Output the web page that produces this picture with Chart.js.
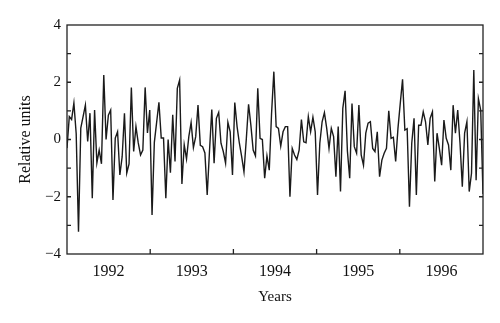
<!DOCTYPE html>
<html>
<head>
<meta charset="utf-8">
<script src="https://cdn.jsdelivr.net/npm/chart.js@4.4.0/dist/chart.umd.min.js"></script>
<style>
  html, body { margin: 0; padding: 0; background: #fff; }
  #wrap { width: 500px; height: 323px; }
</style>
</head>
<body>
<div id="wrap"><canvas id="chart"></canvas></div>
<script>
// year bins shown on the x axis
const yearLabels = ['1992', '1993', '1994', '1995', '1996'];
const firstYear = 1992;
const lastYear = 1997;

// y axis labels
const yTickValues = [-4, -2, 0, 2, 4];

// relative units (about 36 samples per year)
const relValues = [
  -0.3, 0.8, 0.7, 1.27, 0.2, -3.22, 0.4, 0.8, 1.2, -0.07,
  0.92, -2.05, 1.03, -0.82, -0.37, -0.85, 2.25, 0, 0.85, 1.03,
  -2.11, 0.05, 0.27, -1.24, -0.6, 0.92, -1.17, -0.85, 1.82, -0.42,
  0.45, -0.12, -0.54, -0.37, 1.82, 0.23, 1.03, -2.64, -0.1, 0.6,
  1.3, 0.05, 0.05, -2.05, 0.0, -1.16, 0.86, -0.77, 1.79, 2.08,
  -1.55, -0.19, -0.68, 0.1, 0.59, -0.28, 0.1, 1.2, -0.2, -0.25,
  -0.47, -1.94, -0.4, 1.05, -0.83, 0.74, 0.95, -0.13, -0.42, -0.83,
  0.6, 0.27, -1.24, 1.29, 0.45, -0.13, -0.6, -1.13, 0, 1.23,
  0.5, -0.37, -0.57, 1.79, 0.04, 0, -1.35, -0.57, -1.07, 0.91,
  2.37, 0.45, 0.39, -0.23, 0.27, 0.45, 0.45, -2.0, -0.31, -0.54,
  -0.7, -0.37, 0.7, -0.08, -0.11, 0.8, 0.27, 0.78, 0.27, -1.94,
  -0.13, 0.62, 0.94, 0.39, -0.31, 0.39, 0.1, -1.3, 0.45, -1.82,
  1.09, 1.7, -0.4, -1.35, 1.26, -0.25, -0.48, 1.2, -0.54, -0.9,
  0.22, 0.57, 0.62, -0.31, -0.42, 0.27, -1.3, -0.72, -0.48, -0.31,
  1.0, 0.04, 0.08, -0.77, 0.39, 1.26, 2.1, 0.33, 0.38, -2.35,
  -0.13, 0.74, -1.94, 0.5, 0.5, 0.97, 0.62, -0.19, 0.74, 0.97,
  -1.47, 0.22, -0.31, -0.9, 0.68, 0.04, -0.19, -1.07, 1.2, 0.22,
  1.03, -0.13, -1.65, 0.22, 0.62, -1.82, -1.18, 2.43, -1.42, 1.43,
  1.03, -1.9
];

const serif = '"Liberation Serif", "DejaVu Serif", serif';
const span = lastYear - firstYear;
const points = relValues.map((v, i) => ({
  x: firstYear + span * i / (relValues.length - 1),
  y: v
}));

// box around the plot plus the small inward ticks
const frame = {
  id: 'frame',
  afterDraw(chart) {
    const { ctx, chartArea: a, scales } = chart;
    const x = scales.x, y = scales.y;
    ctx.save();
    ctx.strokeStyle = '#222';
    ctx.lineWidth = 1.3;
    ctx.strokeRect(a.left, a.top, a.right - a.left, a.bottom - a.top);
    ctx.beginPath();
    for (let v = -3; v <= 3; v++) {
      const py = y.getPixelForValue(v);
      ctx.moveTo(a.left, py); ctx.lineTo(a.left + 4, py);
      ctx.moveTo(a.right, py); ctx.lineTo(a.right - 4, py);
    }
    for (let yr = firstYear + 1; yr < lastYear; yr++) {
      const px = x.getPixelForValue(yr);
      ctx.moveTo(px, a.bottom); ctx.lineTo(px, a.bottom - 5);
    }
    ctx.stroke();
    ctx.restore();
  }
};

new Chart(document.getElementById('chart'), {
  type: 'line',
  data: {
    datasets: [{
      data: points,
      borderColor: '#1a1a1a',
      borderWidth: 1.4,
      pointRadius: 0,
      tension: 0,
      fill: false
    }]
  },
  options: {
    responsive: true,
    maintainAspectRatio: false,
    animation: false,
    events: [],
    layout: { padding: { top: 25, right: 17, left: 0, bottom: 0 } },
    plugins: { legend: { display: false }, tooltip: { enabled: false } },
    scales: {
      x: {
        type: 'linear',
        min: firstYear,
        max: lastYear,
        grid: { display: false, drawTicks: false },
        border: { display: false },
        afterBuildTicks: (scale) => {
          scale.ticks = yearLabels.map((l, i) => ({ value: firstYear + i + 0.5 }));
        },
        afterFit: (scale) => { scale.height = 69; },
        ticks: {
          autoSkip: false,
          maxRotation: 0,
          padding: 8,
          color: '#111',
          font: { family: serif, size: 16 },
          callback: (v, i) => yearLabels[i]
        },
        title: {
          display: true,
          text: 'Years',
          color: '#111',
          font: { family: serif, size: 15 },
          padding: { top: 0, bottom: 17 }
        }
      },
      y: {
        min: -4,
        max: 4,
        grid: { display: false, drawTicks: false },
        border: { display: false },
        afterBuildTicks: (scale) => {
          scale.ticks = yTickValues.map(v => ({ value: v }));
        },
        afterFit: (scale) => { scale.width = 67; },
        ticks: {
          padding: 6,
          color: '#111',
          font: { family: serif, size: 15 },
          callback: (v) => (v < 0 ? '\u2212' + Math.abs(v) : String(v))
        },
        title: {
          display: true,
          text: 'Relative units',
          color: '#111',
          font: { family: serif, size: 16 },
          padding: { top: 16, bottom: 0 }
        }
      }
    }
  },
  plugins: [frame]
});
</script>
</body>
</html>
